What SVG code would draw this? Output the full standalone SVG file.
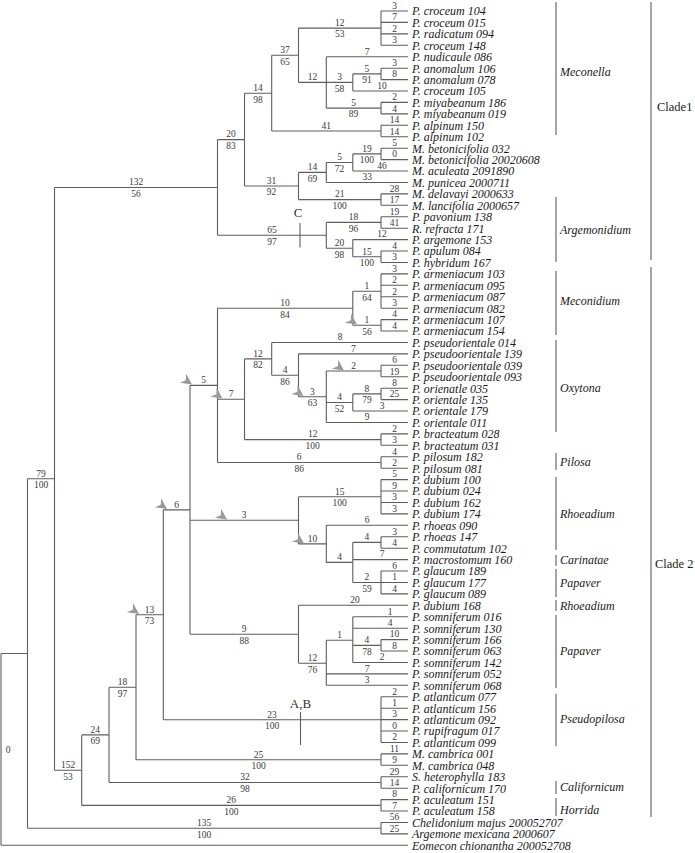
<svg xmlns="http://www.w3.org/2000/svg" xmlns:xlink="http://www.w3.org/1999/xlink" width="695" height="853" viewBox="0 0 695 853">
<style>
.br{fill:none;stroke:#5e5e5e;stroke-width:1.1}
.tip text{font-family:"Liberation Serif","Times New Roman",serif;font-style:italic;font-size:12px;fill:#1a1a1a}
.s{font-family:"Liberation Serif","Times New Roman",serif;font-size:9.5px;fill:#3a3a3a;text-anchor:middle}
.grp{font-family:"Liberation Serif","Times New Roman",serif;font-style:italic;font-size:12px;fill:#1a1a1a}
.cl{font-family:"Liberation Serif","Times New Roman",serif;font-size:12.5px;fill:#1a1a1a}
.mk{font-family:"Liberation Serif","Times New Roman",serif;font-size:13px;fill:#333;text-anchor:middle}
.bar{stroke:#6a6a6a;stroke-width:1.2;fill:none}
.arw{fill:#9a9a9a}
</style>
<defs>
<path id="aw" d="M0,0 L-11,-5.5 L-7.5,0 L-11,5.5 Z"/>
</defs>
<rect width="695" height="853" fill="#fff"/>
<g id="connectors" class="br">
<path d="M1,653.5V845.3M1,653.5H27.5M1,845.3H408"/>
<path d="M27.5,478.8V828.3M27.5,478.8H54.5M27.5,828.3H381M381,822.5V833.9M381,822.5H408M381,833.9H408"/>
<path d="M54.5,187.5V770.2M54.5,187.5H217.5M54.5,770.2H81.7"/>
<path d="M217.5,139.6V235.3M217.5,139.6H244.5M217.5,235.3H326.3"/>
<path d="M244.5,93.2V186M244.5,93.2H271.7M244.5,186H298.5"/>
<path d="M271.7,55.3V131M271.7,55.3H298.5M271.7,131H381"/>
<path d="M298.5,28.1V82.4M298.5,28.1H381M298.5,82.4H326.3"/>
<path d="M381,11V45.3M381,11H408M381,22.4H408M381,33.9H408M381,45.3H408"/>
<path d="M326.3,56.7V108.1M326.3,56.7H408M326.3,82.4H352.8M326.3,108.1H381"/>
<path d="M352.8,73.9V91M352.8,73.9H381M352.8,91H408M381,68.2V79.6M381,68.2H408M381,79.6H408"/>
<path d="M381,102.4V113.9M381,102.4H408M381,113.9H408M381,125.3V136.7M381,125.3H408M381,136.7H408"/>
<path d="M298.5,172.4V199.6M298.5,172.4H326.3M298.5,199.6H381"/>
<path d="M326.3,162.5V182.5M326.3,162.5H352.8M326.3,182.5H408"/>
<path d="M352.8,153.9V171M352.8,153.9H381M352.8,171H408M381,148.2V159.6M381,148.2H408M381,159.6H408"/>
<path d="M381,193.9V205.3M381,193.9H408M381,205.3H408"/>
<path d="M326.3,222.4V248.2M326.3,222.4H381M326.3,248.2H352.8M381,216.7V228.2M381,216.7H408M381,228.2H408"/>
<path d="M352.8,239.6V256.7M352.8,239.6H408M352.8,256.7H381M381,251V262.5M381,251H408M381,262.5H408"/>
<path d="M300,223V247.5"/>
<path d="M81.7,734.9V805.4M81.7,734.9H109M81.7,805.4H381M381,799.6V811M381,799.6H408M381,811H408"/>
<path d="M109,687.3V782.5M109,687.3H136M109,782.5H381M381,776.8V788.2M381,776.8H408M381,788.2H408"/>
<path d="M136,614.8V759.7M136,614.8H163.3M136,759.7H381M381,753.9V765.3M381,753.9H408M381,765.3H408"/>
<path d="M163.3,509.9V719.7M163.3,509.9H190M163.3,719.7H381M381,696.8V742.5M381,696.8H408M381,708.2H408M381,719.6H408M381,731H408M381,742.5H408"/>
<path d="M300.5,712V745"/>
<path d="M190,385.4V634.3M190,385.4H217.5M190,520.3H298.5M190,634.3H298.5"/>
<path d="M217.5,308.3V462.5M217.5,308.3H352.8M217.5,399.3H244.5M217.5,462.5H381"/>
<path d="M352.8,291.2V325.3M352.8,291.2H381M352.8,325.3H381"/>
<path d="M381,273.9V308.2M381,273.9H408M381,285.3H408M381,296.7H408M381,308.2H408M381,319.6V331M381,319.6H408M381,331H408"/>
<path d="M244.5,358.9V439.6M244.5,358.9H271.7M244.5,439.6H381"/>
<path d="M271.7,342.5V375.3M271.7,342.5H408M271.7,375.3H298.5"/>
<path d="M298.5,353.9V396.7M298.5,353.9H408M298.5,396.7H326.3"/>
<path d="M326.3,371V422.5M326.3,371H381M326.3,402.5H352.8M326.3,422.5H408M381,365.3V376.8M381,365.3H408M381,376.8H408"/>
<path d="M352.8,393.9V411M352.8,393.9H381M352.8,411H408M381,388.2V399.6M381,388.2H408M381,399.6H408"/>
<path d="M381,433.9V445.3M381,433.9H408M381,445.3H408M381,456.8V468.2M381,456.8H408M381,468.2H408"/>
<path d="M298.5,496.7V543.9M298.5,496.7H381M298.5,543.9H326.3"/>
<path d="M381,479.6V513.9M381,479.6H408M381,491H408M381,502.5H408M381,513.9H408"/>
<path d="M326.3,525.3V562.4M326.3,525.3H408M326.3,562.4H352.8"/>
<path d="M352.8,542.4V582.5M352.8,542.4H381M352.8,559.6H408M352.8,582.5H381M381,536.8V548.2M381,536.8H408M381,548.2H408"/>
<path d="M381,571V593.9M381,571H408M381,582.5H408M381,593.9H408"/>
<path d="M298.5,605.3V663.3M298.5,605.3H408M298.5,663.3H326.3"/>
<path d="M326.3,640.2V685.3M326.3,640.2H352.8M326.3,673.9H408M326.3,685.3H408"/>
<path d="M352.8,616.8V662.5M352.8,616.8H408M352.8,628.2H408M352.8,645.4H381M352.8,662.5H408M381,639.6V651M381,639.6H408M381,651H408"/>
</g>
<g id="arrows" class="arw">
<use xlink:href="#aw" href="#aw" transform="translate(192,384.5) rotate(35)"/>
<use xlink:href="#aw" href="#aw" transform="translate(222.5,398.5) rotate(35)"/>
<use xlink:href="#aw" href="#aw" transform="translate(357,324.5) rotate(35)"/>
<use xlink:href="#aw" href="#aw" transform="translate(303.5,396) rotate(35)"/>
<use xlink:href="#aw" href="#aw" transform="translate(344,370.5) rotate(35)"/>
<use xlink:href="#aw" href="#aw" transform="translate(167,509) rotate(35)"/>
<use xlink:href="#aw" href="#aw" transform="translate(227,519.5) rotate(35)"/>
<use xlink:href="#aw" href="#aw" transform="translate(304,543.5) rotate(35)"/>
<use xlink:href="#aw" href="#aw" transform="translate(139,614) rotate(35)"/>
</g>
<g id="markers">
<text class="mk" x="298" y="217">C</text>
<text class="mk" x="300.5" y="708">A,B</text>
</g>
<g id="support">
<text class="s" x="394.5" y="8.8">3</text><text class="s" x="394.5" y="20.2">7</text><text class="s" x="394.5" y="31.7">2</text><text class="s" x="394.5" y="43.1">3</text>
<text class="s" x="367.2" y="54.5">7</text>
<text class="s" x="394.5" y="66">3</text><text class="s" x="394.5" y="77.4">8</text>
<text class="s" x="382" y="88.8">10</text>
<text class="s" x="394.5" y="100.2">2</text><text class="s" x="394.5" y="111.7">4</text>
<text class="s" x="394.5" y="123.1">14</text><text class="s" x="394.5" y="134.5">14</text>
<text class="s" x="394.5" y="146">5</text><text class="s" x="394.5" y="157.4">0</text>
<text class="s" x="382" y="168.8">46</text>
<text class="s" x="367.2" y="180.3">33</text>
<text class="s" x="394.5" y="191.7">28</text><text class="s" x="394.5" y="203.1">17</text>
<text class="s" x="394.5" y="214.5">19</text><text class="s" x="394.5" y="226">41</text>
<text class="s" x="382" y="237.4">12</text>
<text class="s" x="394.5" y="248.8">4</text><text class="s" x="394.5" y="260.3">3</text>
<text class="s" x="394.5" y="271.7">3</text><text class="s" x="394.5" y="283.1">2</text><text class="s" x="394.5" y="294.5">2</text><text class="s" x="394.5" y="306">3</text>
<text class="s" x="394.5" y="317.4">4</text><text class="s" x="394.5" y="328.8">4</text>
<text class="s" x="340" y="340.3">8</text>
<text class="s" x="353.3" y="351.7">7</text>
<text class="s" x="394.5" y="363.1">6</text><text class="s" x="394.5" y="374.6">19</text>
<text class="s" x="394.5" y="386">8</text><text class="s" x="394.5" y="397.4">25</text>
<text class="s" x="382" y="408.8">3</text>
<text class="s" x="367.2" y="420.3">9</text>
<text class="s" x="394.5" y="431.7">2</text><text class="s" x="394.5" y="443.1">3</text>
<text class="s" x="394.5" y="454.6">4</text><text class="s" x="394.5" y="466">2</text>
<text class="s" x="394.5" y="477.4">5</text><text class="s" x="394.5" y="488.8">9</text><text class="s" x="394.5" y="500.3">3</text><text class="s" x="394.5" y="511.7">3</text>
<text class="s" x="367.2" y="523.1">6</text>
<text class="s" x="394.5" y="534.6">3</text><text class="s" x="394.5" y="546">4</text>
<text class="s" x="382" y="557.4">7</text>
<text class="s" x="394.5" y="568.8">6</text><text class="s" x="394.5" y="580.3">1</text><text class="s" x="394.5" y="591.7">4</text>
<text class="s" x="355" y="603.1">20</text>
<text class="s" x="390" y="614.6">1</text><text class="s" x="390" y="626">4</text>
<text class="s" x="394.5" y="637.4">10</text><text class="s" x="394.5" y="648.8">8</text>
<text class="s" x="382" y="660.3">2</text>
<text class="s" x="367.2" y="671.7">7</text><text class="s" x="367.2" y="683.1">3</text>
<text class="s" x="394.5" y="694.6">2</text><text class="s" x="394.5" y="706">1</text><text class="s" x="394.5" y="717.4">3</text><text class="s" x="394.5" y="728.8">0</text><text class="s" x="394.5" y="740.3">2</text>
<text class="s" x="394.5" y="751.7">11</text><text class="s" x="394.5" y="763.1">9</text>
<text class="s" x="394.5" y="774.6">29</text><text class="s" x="394.5" y="786">14</text>
<text class="s" x="394.5" y="797.4">8</text><text class="s" x="394.5" y="808.8">7</text>
<text class="s" x="394.5" y="820.3">56</text><text class="s" x="394.5" y="831.7">25</text>
<text class="s" x="339.7" y="25.9">12</text><text class="s" x="339.7" y="37.4">53</text>
<text class="s" x="312.4" y="80.2">12</text>
<text class="s" x="339.5" y="80.2">3</text><text class="s" x="339.5" y="91.7">58</text>
<text class="s" x="366.9" y="71.7">5</text><text class="s" x="366.9" y="83.2">91</text>
<text class="s" x="353.6" y="105.9">5</text><text class="s" x="353.6" y="117.4">89</text>
<text class="s" x="285.1" y="53.1">37</text><text class="s" x="285.1" y="64.6">65</text>
<text class="s" x="326.3" y="128.8">41</text>
<text class="s" x="258.1" y="91">14</text><text class="s" x="258.1" y="102.5">98</text>
<text class="s" x="231" y="137.4">20</text><text class="s" x="231" y="148.9">83</text>
<text class="s" x="271.5" y="183.8">31</text><text class="s" x="271.5" y="195.3">92</text>
<text class="s" x="312.4" y="170.2">14</text><text class="s" x="312.4" y="181.7">69</text>
<text class="s" x="339.5" y="160.3">5</text><text class="s" x="339.5" y="171.8">72</text>
<text class="s" x="366.9" y="151.7">19</text><text class="s" x="366.9" y="163.2">100</text>
<text class="s" x="339.7" y="197.4">21</text><text class="s" x="339.7" y="208.9">100</text>
<text class="s" x="271.9" y="233.1">65</text><text class="s" x="271.9" y="244.6">97</text>
<text class="s" x="353.6" y="220.2">18</text><text class="s" x="353.6" y="231.7">96</text>
<text class="s" x="339.5" y="246">20</text><text class="s" x="339.5" y="257.5">98</text>
<text class="s" x="366.9" y="254.5">15</text><text class="s" x="366.9" y="266">100</text>
<text class="s" x="136" y="185.3">132</text><text class="s" x="136" y="196.8">56</text>
<text class="s" x="285.1" y="306.1">10</text><text class="s" x="285.1" y="317.6">84</text>
<text class="s" x="366.9" y="289">1</text><text class="s" x="366.9" y="300.5">64</text>
<text class="s" x="366.9" y="323.1">1</text><text class="s" x="366.9" y="334.6">56</text>
<text class="s" x="231" y="397.1">7</text>
<text class="s" x="258.1" y="356.7">12</text><text class="s" x="258.1" y="368.2">82</text>
<text class="s" x="285.1" y="373.1">4</text><text class="s" x="285.1" y="384.6">86</text>
<text class="s" x="312.4" y="394.5">3</text><text class="s" x="312.4" y="406">63</text>
<text class="s" x="353.6" y="368.8">2</text>
<text class="s" x="339.5" y="400.3">4</text><text class="s" x="339.5" y="411.8">52</text>
<text class="s" x="366.9" y="391.7">8</text><text class="s" x="366.9" y="403.2">79</text>
<text class="s" x="312.7" y="437.4">12</text><text class="s" x="312.7" y="448.9">100</text>
<text class="s" x="299.2" y="460.3">6</text><text class="s" x="299.2" y="471.8">86</text>
<text class="s" x="203.7" y="383.2">5</text>
<text class="s" x="244.2" y="518.1">3</text>
<text class="s" x="339.7" y="494.5">15</text><text class="s" x="339.7" y="506">100</text>
<text class="s" x="312.4" y="541.7">10</text>
<text class="s" x="339.5" y="560.2">4</text>
<text class="s" x="366.9" y="540.2">4</text>
<text class="s" x="366.9" y="580.3">2</text><text class="s" x="366.9" y="591.8">59</text>
<text class="s" x="244.2" y="632.1">9</text><text class="s" x="244.2" y="643.6">88</text>
<text class="s" x="312.4" y="661.1">12</text><text class="s" x="312.4" y="672.6">76</text>
<text class="s" x="339.5" y="638">1</text>
<text class="s" x="366.9" y="643.2">4</text><text class="s" x="366.9" y="654.7">78</text>
<text class="s" x="176.6" y="507.7">6</text>
<text class="s" x="272.1" y="717.5">23</text><text class="s" x="272.1" y="729">100</text>
<text class="s" x="149.6" y="612.6">13</text><text class="s" x="149.6" y="624.1">73</text>
<text class="s" x="258.5" y="757.5">25</text><text class="s" x="258.5" y="769">100</text>
<text class="s" x="122.5" y="685.1">18</text><text class="s" x="122.5" y="696.6">97</text>
<text class="s" x="245" y="780.3">32</text><text class="s" x="245" y="791.8">98</text>
<text class="s" x="95.3" y="732.7">24</text><text class="s" x="95.3" y="744.2">69</text>
<text class="s" x="231.3" y="803.2">26</text><text class="s" x="231.3" y="814.7">100</text>
<text class="s" x="68.1" y="768">152</text><text class="s" x="68.1" y="779.5">53</text>
<text class="s" x="41" y="476.6">79</text><text class="s" x="41" y="488.1">100</text>
<text class="s" x="204.2" y="826.1">135</text><text class="s" x="204.2" y="837.6">100</text>
<text class="s" x="8" y="753">0</text>
</g>
<g class="tip">
<g id="t01"><text x="412" y="15.3">P. croceum 104</text></g>
<g id="t02"><text x="412" y="26.7">P. croceum 015</text></g>
<g id="t03"><text x="412" y="38.2">P. radicatum 094</text></g>
<g id="t04"><text x="412" y="49.6">P. croceum 148</text></g>
<g id="t05"><text x="412" y="61">P. nudicaule 086</text></g>
<g id="t06"><text x="412" y="72.5">P. anomalum 106</text></g>
<g id="t07"><text x="412" y="83.9">P. anomalum 078</text></g>
<g id="t08"><text x="412" y="95.3">P. croceum 105</text></g>
<g id="t09"><text x="412" y="106.7">P. miyabeanum 186</text></g>
<g id="t10"><text x="412" y="118.2">P. miyabeanum 019</text></g>
<g id="t11"><text x="412" y="129.6">P. alpinum 150</text></g>
<g id="t12"><text x="412" y="141">P. alpinum 102</text></g>
<g id="t13"><text x="412" y="152.5">M. betonicifolia 032</text></g>
<g id="t14"><text x="412" y="163.9">M. betonicifolia 20020608</text></g>
<g id="t15"><text x="412" y="175.3">M. aculeata 2091890</text></g>
<g id="t16"><text x="412" y="186.8">M. punicea 2000711</text></g>
<g id="t17"><text x="412" y="198.2">M. delavayi 2000633</text></g>
<g id="t18"><text x="412" y="209.6">M. lancifolia 2000657</text></g>
<g id="t19"><text x="412" y="221">P. pavonium 138</text></g>
<g id="t20"><text x="412" y="232.5">R. refracta 171</text></g>
<g id="t21"><text x="412" y="243.9">P. argemone 153</text></g>
<g id="t22"><text x="412" y="255.3">P. apulum 084</text></g>
<g id="t23"><text x="412" y="266.8">P. hybridum 167</text></g>
<g id="t24"><text x="412" y="278.2">P. armeniacum 103</text></g>
<g id="t25"><text x="412" y="289.6">P. armeniacum 095</text></g>
<g id="t26"><text x="412" y="301">P. armeniacum 087</text></g>
<g id="t27"><text x="412" y="312.5">P. armeniacum 082</text></g>
<g id="t28"><text x="412" y="323.9">P. armeniacum 107</text></g>
<g id="t29"><text x="412" y="335.3">P. armeniacum 154</text></g>
<g id="t30"><text x="412" y="346.8">P. pseudorientale 014</text></g>
<g id="t31"><text x="412" y="358.2">P. pseudoorientale 139</text></g>
<g id="t32"><text x="412" y="369.6">P. pseudoorientale 039</text></g>
<g id="t33"><text x="412" y="381.1">P. pseudoorientale 093</text></g>
<g id="t34"><text x="412" y="392.5">P. orienatle 035</text></g>
<g id="t35"><text x="412" y="403.9">P. orientale 135</text></g>
<g id="t36"><text x="412" y="415.3">P. orientale 179</text></g>
<g id="t37"><text x="412" y="426.8">P. orientale 011</text></g>
<g id="t38"><text x="412" y="438.2">P. bracteatum 028</text></g>
<g id="t39"><text x="412" y="449.6">P. bracteatum 031</text></g>
<g id="t40"><text x="412" y="461.1">P. pilosum 182</text></g>
<g id="t41"><text x="412" y="472.5">P. pilosum 081</text></g>
<g id="t42"><text x="412" y="483.9">P. dubium 100</text></g>
<g id="t43"><text x="412" y="495.3">P. dubium 024</text></g>
<g id="t44"><text x="412" y="506.8">P. dubium 162</text></g>
<g id="t45"><text x="412" y="518.2">P. dubium 174</text></g>
<g id="t46"><text x="412" y="529.6">P. rhoeas 090</text></g>
<g id="t47"><text x="412" y="541.1">P. rhoeas 147</text></g>
<g id="t48"><text x="412" y="552.5">P. commutatum 102</text></g>
<g id="t49"><text x="412" y="563.9">P. macrostomum 160</text></g>
<g id="t50"><text x="412" y="575.3">P. glaucum 189</text></g>
<g id="t51"><text x="412" y="586.8">P. glaucum 177</text></g>
<g id="t52"><text x="412" y="598.2">P. glaucum 089</text></g>
<g id="t53"><text x="412" y="609.6">P. dubium 168</text></g>
<g id="t54"><text x="412" y="621.1">P. somniferum 016</text></g>
<g id="t55"><text x="412" y="632.5">P. somniferum 130</text></g>
<g id="t56"><text x="412" y="643.9">P. somniferum 166</text></g>
<g id="t57"><text x="412" y="655.3">P. somniferum 063</text></g>
<g id="t58"><text x="412" y="666.8">P. somniferum 142</text></g>
<g id="t59"><text x="412" y="678.2">P. somniferum 052</text></g>
<g id="t60"><text x="412" y="689.6">P. somniferum 068</text></g>
<g id="t61"><text x="412" y="701.1">P. atlanticum 077</text></g>
<g id="t62"><text x="412" y="712.5">P. atlanticum 156</text></g>
<g id="t63"><text x="412" y="723.9">P. atlanticum 092</text></g>
<g id="t64"><text x="412" y="735.3">P. rupifragum 017</text></g>
<g id="t65"><text x="412" y="746.8">P. atlanticum 099</text></g>
<g id="t66"><text x="412" y="758.2">M. cambrica 001</text></g>
<g id="t67"><text x="412" y="769.6">M. cambrica 048</text></g>
<g id="t68"><text x="412" y="781.1">S. heterophylla 183</text></g>
<g id="t69"><text x="412" y="792.5">P. californicum 170</text></g>
<g id="t70"><text x="412" y="803.9">P. aculeatum 151</text></g>
<g id="t71"><text x="412" y="815.3">P. aculeatum 158</text></g>
<g id="t72"><text x="412" y="826.8">Chelidonium majus 200052707</text></g>
<g id="t73"><text x="412" y="838.2">Argemone mexicana 2000607</text></g>
<g id="t74"><text x="412" y="849.6">Eomecon chionantha 200052708</text></g>
</g>
<g id="groups">
<g id="g-meconella"><path class="bar" d="M556,2V135"/><text class="grp" x="560" y="76">Meconella</text></g>
<g id="g-argemonidium"><path class="bar" d="M556,197V262"/><text class="grp" x="560" y="234">Argemonidium</text></g>
<g id="g-meconidium"><path class="bar" d="M556,271V335"/><text class="grp" x="560" y="305">Meconidium</text></g>
<g id="g-oxytona"><path class="bar" d="M556,340V432"/><text class="grp" x="560" y="392">Oxytona</text></g>
<g id="g-pilosa"><path class="bar" d="M556,453V470"/><text class="grp" x="560" y="466">Pilosa</text></g>
<g id="g-rhoeadium1"><path class="bar" d="M556,477V550"/><text class="grp" x="560" y="518">Rhoeadium</text></g>
<g id="g-carinatae"><path class="bar" d="M556,555V566"/><text class="grp" x="560" y="564">Carinatae</text></g>
<g id="g-papaver1"><path class="bar" d="M556,569V597"/><text class="grp" x="560" y="587">Papaver</text></g>
<g id="g-rhoeadium2"><path class="bar" d="M556,600V611"/><text class="grp" x="560" y="610">Rhoeadium</text></g>
<g id="g-papaver2"><path class="bar" d="M556,615V688"/><text class="grp" x="560" y="655">Papaver</text></g>
<g id="g-pseudopilosa"><path class="bar" d="M556,694V746"/><text class="grp" x="560" y="723">Pseudopilosa</text></g>
<g id="g-californicum"><path class="bar" d="M556,781V794"/><text class="grp" x="560" y="791">Californicum</text></g>
<g id="g-horrida"><path class="bar" d="M556,798V816"/><text class="grp" x="560" y="814">Horrida</text></g>
<g id="clade1"><path class="bar" d="M651,2V260"/><text class="cl" x="657" y="111">Clade1</text></g>
<g id="clade2"><path class="bar" d="M651,267V817"/><text class="cl" x="655" y="568">Clade 2</text></g>
</g>
</svg>
